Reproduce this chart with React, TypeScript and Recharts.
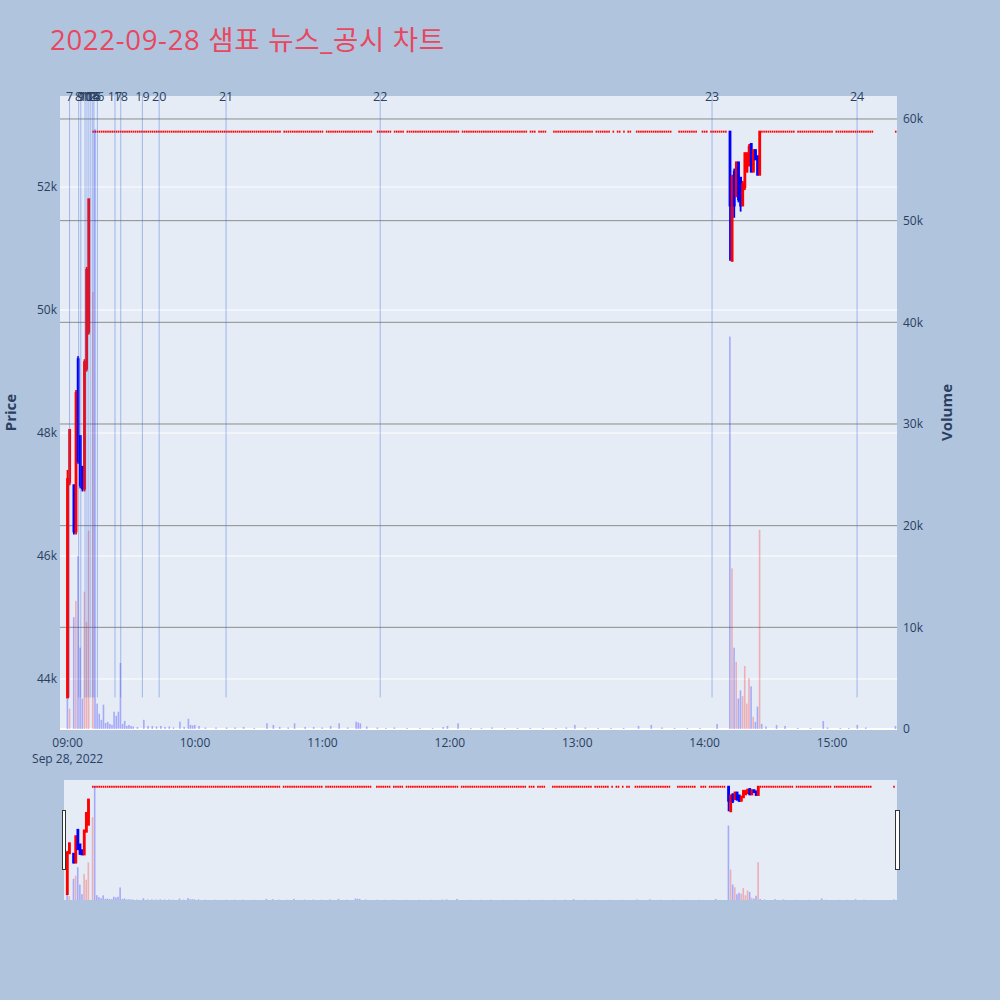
import React from 'react';
import { ComposedChart, Bar, Scatter, XAxis, YAxis, CartesianGrid, ReferenceLine } from 'recharts';

// ================= DATA (x = minutes after 09:00, 2022-09-28) =================
const LIMIT_PRICE = 52900; // upper-limit price, traded flat most of the day
const DAY_LOW = 43700;

type Candle = [number, number, number, number, number]; // minute, open, high, low, close

const morningCandles: Candle[] = [
  [0, 43700, 47400, 43700, 47250],
  [1, 47200, 48050, 47150, 48050],
  [3, 47150, 47150, 46350, 46400],
  [4, 46400, 48700, 46350, 48650],
  [5, 49200, 49250, 47500, 47550],
  [6, 47950, 47950, 47100, 47150],
  [7, 47450, 47450, 47050, 47100],
  [8, 47100, 49200, 47050, 49150],
  [9, 49050, 50700, 49000, 50650],
  [10, 49650, 51800, 49600, 51800],
];

const afternoonCandles: Candle[] = [
  [312, 52900, 52900, 50800, 51700],
  [313, 50800, 52200, 50800, 52150],
  [314, 52250, 52300, 51500, 51700],
  [315, 51850, 52400, 51850, 52400],
  [316, 52400, 52400, 51750, 51800],
  [317, 52150, 52150, 51600, 51700],
  [318, 51700, 52100, 51700, 52050],
  [319, 52000, 52550, 51950, 52550],
  [320, 52250, 52550, 52250, 52550],
  [321, 52350, 52700, 52350, 52650],
  [322, 52700, 52700, 52250, 52250],
  [323, 52250, 52600, 52250, 52600],
  [324, 52600, 52600, 52450, 52450],
  [325, 52500, 52500, 52200, 52200],
  [326, 52200, 52900, 52200, 52900],
];

// runs of minutes [from, to] with flat candles at the limit price
const limitRuns: [number, number][] = [
  [12, 100], [102, 120], [122, 143], [146, 152], [154, 158], [160, 184], [186, 216],
  [218, 220], [222, 225], [229, 247], [249, 255], [257, 257], [259, 260], [262, 262],
  [264, 265], [268, 284], [288, 296], [299, 301], [303, 310], [327, 342], [344, 360],
  [362, 379], [390, 390],
];

// minute, volume, 1 = red / 0 = blue
const morningVolumes: [number, number, number][] = [
  [0, 3000, 0], [1, 2000, 1], [3, 11000, 0], [4, 12600, 1], [5, 17000, 0], [6, 8000, 0],
  [7, 3000, 0], [8, 13500, 1], [9, 10500, 1], [10, 19500, 1], [12, 43000, 1], [13, 59000, 0],
  [14, 2500, 0], [15, 1500, 0], [16, 900, 0], [17, 2400, 0], [18, 600, 0], [19, 700, 0],
  [20, 500, 0], [21, 400, 0], [22, 1700, 0], [23, 1300, 0], [24, 1700, 0], [25, 6500, 0],
  [26, 500, 0], [27, 800, 0], [28, 300, 0], [29, 400, 0], [30, 300, 0], [31, 250, 0],
  [33, 200, 0], [36, 900, 0], [38, 300, 0], [40, 300, 0], [42, 250, 0], [44, 300, 0],
  [46, 200, 0], [48, 250, 0], [50, 150, 0], [53, 720, 0], [55, 200, 0], [57, 1000, 0],
  [58, 400, 0], [59, 350, 0], [60, 400, 0], [62, 300, 0], [65, 150, 0], [70, 150, 0],
  [75, 150, 0], [79, 150, 0], [83, 200, 0], [88, 100, 0], [94, 560, 0], [97, 400, 0],
  [100, 200, 0], [104, 150, 0], [107, 560, 0], [112, 200, 0], [116, 200, 0], [120, 150, 0],
  [124, 300, 0], [128, 560, 0], [132, 150, 0], [136, 720, 0], [137, 650, 0], [138, 560, 0],
  [141, 250, 0], [146, 150, 0], [150, 100, 0], [154, 150, 0], [160, 100, 0], [166, 100, 0],
  [172, 100, 0], [177, 200, 0], [179, 300, 0], [184, 560, 0],
];

const afternoonVolumes: [number, number, number][] = [
  [190, 100, 0], [195, 100, 0], [200, 150, 0], [206, 100, 0], [212, 100, 0], [218, 100, 0],
  [224, 100, 0], [230, 100, 0], [235, 150, 0], [239, 400, 0], [244, 150, 0], [250, 100, 0],
  [256, 100, 0], [262, 100, 0], [269, 300, 0], [275, 400, 0], [280, 150, 0], [286, 100, 0],
  [292, 100, 0], [298, 100, 0], [306, 500, 0],
  [312, 38600, 0], [313, 15800, 1], [314, 8000, 0], [315, 6600, 1], [316, 3000, 0],
  [317, 3800, 0], [318, 3250, 1], [319, 6200, 1], [320, 2500, 1], [321, 5000, 1],
  [322, 4200, 0], [323, 1200, 1], [324, 700, 0], [325, 2200, 0], [326, 19600, 1],
  [327, 500, 0], [329, 250, 0], [334, 400, 0], [338, 300, 0], [344, 100, 0], [350, 100, 0],
  [356, 790, 0], [358, 150, 0], [364, 100, 0], [368, 100, 0], [372, 400, 0], [376, 150, 0],
  [390, 300, 0],
];

// news / disclosure markers
const newsMinutes = [0.9, 5.2, 6.2, 8.2, 9.1, 10.0, 10.9, 11.8, 12.4, 14.0, 22.3, 25.0, 35.2, 43.1, 74.6, 147.2, 303.5, 371.8];
const newsLabels = ['7', '8', '9', '10', '11', '12', '13', '14', '15', '16', '17', '18', '19', '20', '21', '22', '23', '24'];

const hourTicks = [0, 60, 120, 180, 240, 300, 360];
const hourLabels = ['09:00', '10:00', '11:00', '12:00', '13:00', '14:00', '15:00'];
const dateLabel = 'Sep 28, 2022';
const priceTicks = [44000, 46000, 48000, 50000, 52000];
const volumeTicks = [0, 10000, 20000, 30000, 40000, 50000, 60000];

const TITLE = '2022-09-28 샘표 뉴스_공시 차트';

// ================= build tables =================
const candleRows = [...morningCandles, ...afternoonCandles].map(([t, o, h, l, c]) => ({
  t, o, c, range: [l, h] as [number, number],
}));
const flatRows: { t: number; flat: number }[] = [];
limitRuns.forEach(([a, b]) => {
  for (let t = a; t <= b; t++) flatRows.push({ t, flat: LIMIT_PRICE });
});
const volumeRows = [...morningVolumes, ...afternoonVolumes].map(([t, vol, up]) => ({ t, vol, up }));

// ================= layout / style =================
const FONT = "'Open Sans', 'Noto Sans CJK KR', Verdana, Arial, sans-serif";
const TXT = '#2a3f5f';
const BG = '#b0c4de';
const PLOT_BG = '#e5ecf6';
const RED = '#ff0000';
const BLUE = '#0000ff';
const VOL_RED = 'rgba(255,0,0,0.26)';
const VOL_BLUE = 'rgba(0,0,255,0.28)';
const NEWS_LINE = 'rgba(65,105,225,0.42)';

const TIME_DOMAIN: [number, number] = [-3.6, 390.6];
const SLIDER_TIME_DOMAIN: [number, number] = [-1.6, 391.4];
const PRICE_DOMAIN: [number, number] = [43187, 53480];
const VOL_DOMAIN: [number, number] = [0, 62260];

const MAIN_MARGIN = { top: 96, left: 60, right: 103, bottom: 271 };
const SLIDER_MARGIN = { top: 780, left: 64, right: 103, bottom: 100 };

const BODY_W = 2.8;
const WICK_W = 1.8;
const VOL_W = 1.6;

const CandleShape = (p: any) => {
  const d = p.payload;
  if (!d || !d.range || !Number.isFinite(p.y)) return <g />;
  const [lo, hi] = d.range;
  const top = Math.min(p.y, p.y + p.height);
  const h = Math.abs(p.height);
  const cx = p.x + p.width / 2;
  const yOf = (v: number) => (hi === lo ? top : top + ((hi - v) / (hi - lo)) * h);
  const color = d.c >= d.o ? RED : BLUE;
  const bTop = yOf(Math.max(d.o, d.c));
  const bBot = yOf(Math.min(d.o, d.c));
  return (
    <g>
      <line x1={cx} x2={cx} y1={top} y2={top + h} stroke={color} strokeWidth={WICK_W} />
      <rect x={cx - BODY_W / 2} y={bTop - 1} width={BODY_W} height={Math.max(bBot - bTop, 0) + 2} fill={color} />
    </g>
  );
};

const FlatShape = (p: any) => {
  if (!Number.isFinite(p.cx) || !Number.isFinite(p.cy)) return <g />;
  return <rect x={p.cx - 0.8} y={p.cy - 1} width={1.6} height={2} fill={RED} />;
};

const VolumeShape = (p: any) => {
  const d = p.payload;
  if (!d || !d.vol || !Number.isFinite(p.y)) return <g />;
  const cx = p.x + p.width / 2;
  const top = Math.min(p.y, p.y + p.height);
  return <rect x={cx - VOL_W / 2} y={top} width={VOL_W} height={Math.abs(p.height)} fill={d.up ? VOL_RED : VOL_BLUE} />;
};

const TimeTick = (p: any) => {
  const i = hourTicks.indexOf(p.payload.value);
  return (
    <g>
      <text x={p.x} y={p.y} dy="0.71em" textAnchor="middle" fill={TXT} fontSize={12} fontFamily={FONT}>
        {hourLabels[i]}
      </text>
      {i === 0 && (
        <text x={p.x} y={p.y + 16} dy="0.71em" textAnchor="middle" fill={TXT} fontSize={12} fontFamily={FONT}>
          {dateLabel}
        </text>
      )}
    </g>
  );
};

const priceTitle = (props: any) => {
  const vb = props && props.viewBox && Number.isFinite(props.viewBox.x) ? props.viewBox : { x: 10, y: 96, width: 50, height: 633 };
  const cx = vb.x;
  const cy = vb.y + vb.height / 2;
  return (
    <text x={cx} y={cy} transform={`rotate(-90 ${cx} ${cy})`} textAnchor="middle" dominantBaseline="central"
      fill={TXT} fontSize={15} fontWeight="bold" fontFamily={FONT}>Price</text>
  );
};

const volumeTitle = (props: any) => {
  const vb = props && props.viewBox && Number.isFinite(props.viewBox.x) ? props.viewBox : { x: 897, y: 96, width: 60, height: 633 };
  const cx = vb.x + 49;
  const cy = vb.y + vb.height / 2;
  return (
    <text x={cx} y={cy} transform={`rotate(-90 ${cx} ${cy})`} textAnchor="middle" dominantBaseline="central"
      fill={TXT} fontSize={15} fontWeight="bold" fontFamily={FONT}>Volume</text>
  );
};

const kFmt = (v: number) => (v === 0 ? '0' : `${v / 1000}k`);

const layer: React.CSSProperties = { position: 'absolute', left: 0, top: 0, width: 1000, height: 1000 };

export default function App() {
  return (
    <div style={{ position: 'absolute', left: 0, top: 0, width: 1000, height: 1000, background: BG, fontFamily: FONT, overflow: 'hidden' }}>
      <svg style={layer} width={1000} height={1000}>
        <text x={50} y={50} fill="#e8475f" fontSize={27.5} letterSpacing={0.7} fontFamily={FONT}>{TITLE}</text>
      </svg>

      {/* L0: background and grid */}
      <div style={layer}>
        <ComposedChart width={1000} height={1000} data={candleRows} margin={MAIN_MARGIN}>
          <XAxis dataKey="t" type="number" domain={TIME_DOMAIN} allowDataOverflow hide />
          <YAxis type="number" domain={PRICE_DOMAIN} allowDataOverflow hide ticks={priceTicks} />
          <YAxis yAxisId="vol" orientation="right" type="number" domain={VOL_DOMAIN} allowDataOverflow hide ticks={volumeTicks} />
          <CartesianGrid vertical={false} horizontalValues={priceTicks} stroke="#ffffff" strokeWidth={1} fill={PLOT_BG} fillOpacity={1} />
          {volumeTicks.slice(1).map((v) => (
            <ReferenceLine key={v} yAxisId="vol" y={v} stroke="#8c8c8c" strokeWidth={1} />
          ))}
          <ReferenceLine yAxisId="vol" y={0} stroke="#ffffff" strokeWidth={2} />
        </ComposedChart>
      </div>

      {/* L1: candles */}
      <div style={layer}>
        <ComposedChart width={1000} height={1000} data={candleRows} margin={MAIN_MARGIN}>
          <XAxis dataKey="t" type="number" domain={TIME_DOMAIN} allowDataOverflow hide />
          <YAxis type="number" domain={PRICE_DOMAIN} allowDataOverflow hide />
          <Bar dataKey="range" barSize={BODY_W} shape={CandleShape} isAnimationActive={false} />
          <Scatter data={flatRows} dataKey="flat" shape={FlatShape} isAnimationActive={false} />
        </ComposedChart>
      </div>

      {/* L2: volume, news lines, axes */}
      <div style={layer}>
        <ComposedChart width={1000} height={1000} data={volumeRows} margin={{ top: 96, left: 10, right: 43, bottom: 231 }}>
          <XAxis dataKey="t" type="number" domain={TIME_DOMAIN} allowDataOverflow ticks={hourTicks} interval={0}
            tick={TimeTick} tickLine={false} axisLine={false} height={40} tickSize={6} tickMargin={3} />
          <YAxis type="number" domain={PRICE_DOMAIN} allowDataOverflow ticks={priceTicks} interval={0} width={50}
            tickFormatter={kFmt} tickLine={false} axisLine={false} tickSize={0} tickMargin={3}
            tick={{ fill: TXT, fontSize: 12, fontFamily: FONT }} label={priceTitle} />
          <YAxis yAxisId="vol" orientation="right" type="number" domain={VOL_DOMAIN} allowDataOverflow ticks={volumeTicks}
            interval={0} width={60} tickFormatter={kFmt} tickLine={false} axisLine={false} tickSize={0} tickMargin={6}
            tick={{ fill: TXT, fontSize: 12, fontFamily: FONT }} label={volumeTitle} />
          <Bar yAxisId="vol" dataKey="vol" barSize={VOL_W} shape={VolumeShape} isAnimationActive={false} />
          {newsMinutes.map((m, i) => (
            <ReferenceLine key={i} ifOverflow="visible"
              segment={[{ x: m, y: DAY_LOW }, { x: m, y: PRICE_DOMAIN[1] }]}
              stroke={NEWS_LINE} strokeWidth={1}
              label={{ value: newsLabels[i], position: 'top', offset: -5, fill: TXT, fontSize: 12.5, fontFamily: FONT }} />
          ))}
        </ComposedChart>
      </div>

      {/* L3: range slider background + candles */}
      <div style={layer}>
        <ComposedChart width={1000} height={1000} data={candleRows} margin={SLIDER_MARGIN}>
          <XAxis dataKey="t" type="number" domain={SLIDER_TIME_DOMAIN} allowDataOverflow hide />
          <YAxis type="number" domain={PRICE_DOMAIN} allowDataOverflow hide />
          <CartesianGrid horizontal={false} vertical={false} fill={PLOT_BG} fillOpacity={1} />
          <Bar dataKey="range" barSize={BODY_W} shape={CandleShape} isAnimationActive={false} />
          <Scatter data={flatRows} dataKey="flat" shape={FlatShape} isAnimationActive={false} />
        </ComposedChart>
      </div>

      {/* L4: range slider volume */}
      <div style={layer}>
        <ComposedChart width={1000} height={1000} data={volumeRows} margin={SLIDER_MARGIN}>
          <XAxis dataKey="t" type="number" domain={SLIDER_TIME_DOMAIN} allowDataOverflow hide />
          <YAxis type="number" domain={VOL_DOMAIN} allowDataOverflow hide />
          <Bar dataKey="vol" barSize={VOL_W} shape={VolumeShape} isAnimationActive={false} />
        </ComposedChart>
      </div>

      {/* slider handles */}
      <div style={{ position: 'absolute', left: 61.5, top: 810, width: 2.5, height: 58, background: '#fff', border: '1px solid #333' }} />
      <div style={{ position: 'absolute', left: 895, top: 810, width: 2.5, height: 58, background: '#fff', border: '1px solid #333' }} />
    </div>
  );
}
